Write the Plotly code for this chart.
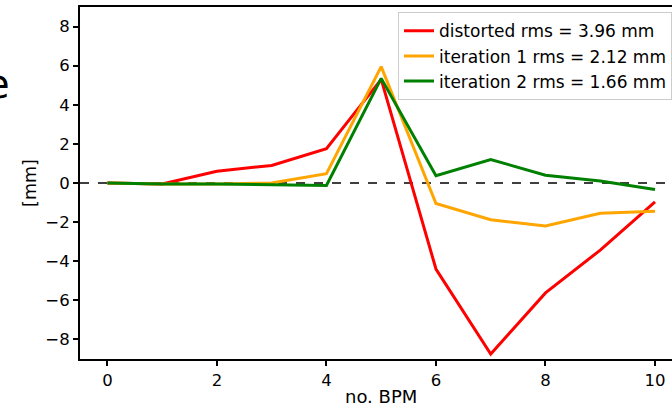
import plotly.graph_objects as go

# BPM index and orbit deviation per iteration [mm]
bpm = [0, 1, 2, 3, 4, 5, 6, 7, 8, 9, 10]
distorted = [0.0, -0.05, 0.6, 0.9, 1.75, 5.3, -4.4, -8.75, -5.62, -3.43, -0.97]
iteration1 = [0.0, -0.05, -0.05, 0.0, 0.48, 5.95, -1.05, -1.88, -2.2, -1.55, -1.45]
iteration2 = [0.0, -0.05, -0.05, -0.1, -0.13, 5.35, 0.37, 1.2, 0.4, 0.1, -0.33]

series_names = ["distorted rms = 3.96 mm", "iteration 1 rms = 2.12 mm", "iteration 2 rms = 1.66 mm"]
series_colors = ["#ff0000", "#ffa500", "#008000"]
x_ticks = [0, 2, 4, 6, 8, 10]
y_ticks = [-8, -6, -4, -2, 0, 2, 4, 6, 8]

font_family = "DejaVu Sans"

fig = go.Figure()
for vals, name, color in zip([distorted, iteration1, iteration2], series_names, series_colors):
    fig.add_trace(go.Scatter(x=bpm, y=vals, mode="lines", name=name,
                             line=dict(color=color, width=3)))

# reference line at zero
fig.add_shape(type="line", xref="paper", yref="y", x0=0, x1=1, y0=0, y1=0,
              line=dict(color="black", width=1.5, dash="dash"), layer="below")

# x-axis title centred on the full axis span (x = -0.5 .. 10.5)
fig.add_annotation(text="no. BPM", xref="x", yref="paper", x=5, y=0, yshift=-37,
                   showarrow=False, xanchor="center", yanchor="middle",
                   font=dict(family=font_family, size=18, color="black"))

fig.add_annotation(text="e", xref="paper", yref="paper", x=-0.14, y=0.781,
                   showarrow=False, xanchor="center", yanchor="middle",
                   font=dict(family=font_family, size=40, color="black"))

fig.update_layout(
    width=672, height=406,
    margin=dict(l=80, r=0, t=7, b=47),
    paper_bgcolor="white", plot_bgcolor="white",
    font=dict(family=font_family, size=16.5, color="black"),
    showlegend=True,
    legend=dict(x=1, y=0.985, xanchor="right", yanchor="top",
                bgcolor="rgba(255,255,255,0.8)", bordercolor="#cccccc", borderwidth=1,
                font=dict(size=17), tracegroupgap=0, itemwidth=30),
)
fig.update_xaxes(range=[-0.5, 10.31], tickvals=x_ticks, showgrid=False, zeroline=False,
                 showline=True, linecolor="black", linewidth=2, mirror=True,
                 ticks="outside", ticklen=5, tickwidth=1.5, tickcolor="black")
fig.update_yaxes(range=[-9, 9], tickvals=y_ticks, showgrid=False, zeroline=False,
                 showline=True, linecolor="black", linewidth=2,
                 ticks="outside", ticklen=5, tickwidth=1.5, tickcolor="black",
                 title=dict(text="[mm]", standoff=4, font=dict(size=17.5)))

fig.write_html("out.html")
